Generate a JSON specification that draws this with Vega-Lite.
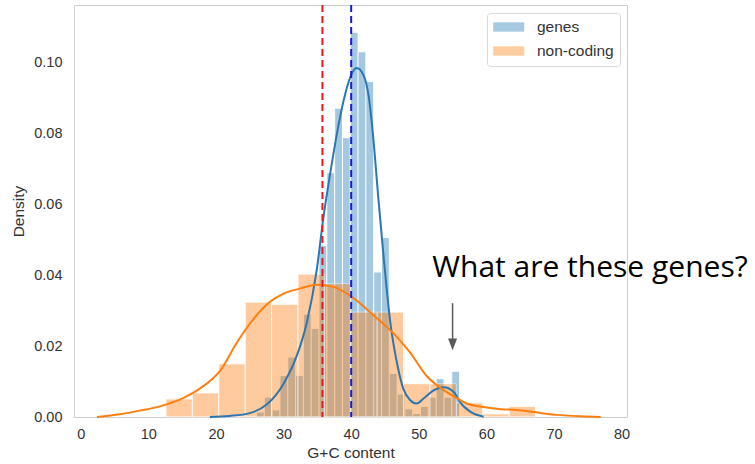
{
  "$schema": "https://vega.github.io/schema/vega-lite/v6.json",
  "width": 553,
  "height": 412,
  "autosize": {"type": "none"},
  "padding": {"left": 74, "top": 5, "right": 128, "bottom": 47},
  "background": "white",
  "config": {
    "font": "Liberation Sans",
    "view": {"stroke": "#cfcfcf", "strokeWidth": 1},
    "axis": {
      "grid": false,
      "domain": false,
      "ticks": false,
      "labelFontSize": 14.5,
      "labelColor": "#333333",
      "titleFontSize": 15.5,
      "titleFontWeight": "normal",
      "titleColor": "#333333"
    }
  },
  "datasets": {
    "hist": [
      {"series": "genes", "bin_start": 25.996, "bin_end": 27.151, "density": 0.0014},
      {"series": "genes", "bin_start": 27.151, "bin_end": 28.307, "density": 0.0056},
      {"series": "genes", "bin_start": 28.307, "bin_end": 29.462, "density": 0.002},
      {"series": "genes", "bin_start": 29.462, "bin_end": 30.618, "density": 0.0117},
      {"series": "genes", "bin_start": 30.618, "bin_end": 31.774, "density": 0.0169},
      {"series": "genes", "bin_start": 31.774, "bin_end": 32.929, "density": 0.0117},
      {"series": "genes", "bin_start": 32.929, "bin_end": 34.085, "density": 0.029},
      {"series": "genes", "bin_start": 34.085, "bin_end": 35.24, "density": 0.025},
      {"series": "genes", "bin_start": 35.24, "bin_end": 36.396, "density": 0.0484},
      {"series": "genes", "bin_start": 36.396, "bin_end": 37.552, "density": 0.0689},
      {"series": "genes", "bin_start": 37.552, "bin_end": 38.707, "density": 0.0871},
      {"series": "genes", "bin_start": 38.707, "bin_end": 39.863, "density": 0.0788},
      {"series": "genes", "bin_start": 39.863, "bin_end": 41.018, "density": 0.1085},
      {"series": "genes", "bin_start": 41.018, "bin_end": 42.174, "density": 0.103},
      {"series": "genes", "bin_start": 42.174, "bin_end": 43.33, "density": 0.0946},
      {"series": "genes", "bin_start": 43.33, "bin_end": 44.485, "density": 0.0409},
      {"series": "genes", "bin_start": 44.485, "bin_end": 45.641, "density": 0.0506},
      {"series": "genes", "bin_start": 45.641, "bin_end": 46.796, "density": 0.0123},
      {"series": "genes", "bin_start": 46.796, "bin_end": 47.952, "density": 0.0065},
      {"series": "genes", "bin_start": 47.952, "bin_end": 49.108, "density": 0.0023},
      {"series": "genes", "bin_start": 49.108, "bin_end": 50.263, "density": 0.001},
      {"series": "genes", "bin_start": 50.263, "bin_end": 51.419, "density": 0.003},
      {"series": "genes", "bin_start": 51.419, "bin_end": 52.574, "density": 0.0056},
      {"series": "genes", "bin_start": 52.574, "bin_end": 53.73, "density": 0.0108},
      {"series": "genes", "bin_start": 53.73, "bin_end": 54.886, "density": 0.0056},
      {"series": "genes", "bin_start": 54.886, "bin_end": 56.041, "density": 0.0129},
      {"series": "non-coding", "bin_start": 12.6, "bin_end": 16.505, "density": 0.0051},
      {"series": "non-coding", "bin_start": 16.505, "bin_end": 20.41, "density": 0.0068},
      {"series": "non-coding", "bin_start": 20.41, "bin_end": 24.315, "density": 0.015},
      {"series": "non-coding", "bin_start": 24.315, "bin_end": 28.22, "density": 0.0324},
      {"series": "non-coding", "bin_start": 28.22, "bin_end": 32.125, "density": 0.0318},
      {"series": "non-coding", "bin_start": 32.125, "bin_end": 36.03, "density": 0.0403},
      {"series": "non-coding", "bin_start": 36.03, "bin_end": 39.935, "density": 0.0376},
      {"series": "non-coding", "bin_start": 39.935, "bin_end": 43.84, "density": 0.0296},
      {"series": "non-coding", "bin_start": 43.84, "bin_end": 47.745, "density": 0.0296},
      {"series": "non-coding", "bin_start": 47.745, "bin_end": 51.65, "density": 0.0094},
      {"series": "non-coding", "bin_start": 51.65, "bin_end": 55.555, "density": 0.0094},
      {"series": "non-coding", "bin_start": 55.555, "bin_end": 59.46, "density": 0.004},
      {"series": "non-coding", "bin_start": 59.46, "bin_end": 63.365, "density": 0.0009},
      {"series": "non-coding", "bin_start": 63.365, "bin_end": 67.27, "density": 0.003}
    ],
    "kde": [
      {"series": "genes", "gc": 19.1, "density": 0},
      {"series": "genes", "gc": 22.0, "density": 0.0003},
      {"series": "genes", "gc": 25.0, "density": 0.0011},
      {"series": "genes", "gc": 27.5, "density": 0.0035},
      {"series": "genes", "gc": 30.0, "density": 0.0094},
      {"series": "genes", "gc": 32.0, "density": 0.0175},
      {"series": "genes", "gc": 33.4, "density": 0.0263},
      {"series": "genes", "gc": 34.9, "density": 0.0414},
      {"series": "genes", "gc": 35.9, "density": 0.0564},
      {"series": "genes", "gc": 36.9, "density": 0.0687},
      {"series": "genes", "gc": 37.9, "density": 0.08},
      {"series": "genes", "gc": 38.9, "density": 0.0894},
      {"series": "genes", "gc": 39.9, "density": 0.096},
      {"series": "genes", "gc": 40.8, "density": 0.0984},
      {"series": "genes", "gc": 41.8, "density": 0.0965},
      {"series": "genes", "gc": 42.6, "density": 0.0903},
      {"series": "genes", "gc": 43.3, "density": 0.0781},
      {"series": "genes", "gc": 44.0, "density": 0.0621},
      {"series": "genes", "gc": 44.8, "density": 0.0451},
      {"series": "genes", "gc": 45.8, "density": 0.0265},
      {"series": "genes", "gc": 46.8, "density": 0.015},
      {"series": "genes", "gc": 47.7, "density": 0.008},
      {"series": "genes", "gc": 48.7, "density": 0.0048},
      {"series": "genes", "gc": 49.7, "density": 0.0038},
      {"series": "genes", "gc": 50.7, "density": 0.0052},
      {"series": "genes", "gc": 52.2, "density": 0.0075},
      {"series": "genes", "gc": 53.7, "density": 0.0084},
      {"series": "genes", "gc": 55.2, "density": 0.007},
      {"series": "genes", "gc": 56.1, "density": 0.0042},
      {"series": "genes", "gc": 57.6, "density": 0.0015},
      {"series": "genes", "gc": 59.6, "density": 0.0001},
      {"series": "non-coding", "gc": 2.4, "density": 0},
      {"series": "non-coding", "gc": 5.8, "density": 0.0008},
      {"series": "non-coding", "gc": 8.7, "density": 0.0018},
      {"series": "non-coding", "gc": 11.7, "density": 0.003},
      {"series": "non-coding", "gc": 15.2, "density": 0.0054},
      {"series": "non-coding", "gc": 17.6, "density": 0.008},
      {"series": "non-coding", "gc": 20.6, "density": 0.013},
      {"series": "non-coding", "gc": 23.1, "density": 0.021},
      {"series": "non-coding", "gc": 25.0, "density": 0.0263},
      {"series": "non-coding", "gc": 28.0, "density": 0.0325},
      {"series": "non-coding", "gc": 30.0, "density": 0.0348},
      {"series": "non-coding", "gc": 32.4, "density": 0.0362},
      {"series": "non-coding", "gc": 34.9, "density": 0.0373},
      {"series": "non-coding", "gc": 37.4, "density": 0.0367},
      {"series": "non-coding", "gc": 40.3, "density": 0.0336},
      {"series": "non-coding", "gc": 43.3, "density": 0.0287},
      {"series": "non-coding", "gc": 46.3, "density": 0.0235},
      {"series": "non-coding", "gc": 48.7, "density": 0.0182},
      {"series": "non-coding", "gc": 51.2, "density": 0.0115},
      {"series": "non-coding", "gc": 53.2, "density": 0.0082},
      {"series": "non-coding", "gc": 55.2, "density": 0.0058},
      {"series": "non-coding", "gc": 57.1, "density": 0.0038},
      {"series": "non-coding", "gc": 59.6, "density": 0.0028},
      {"series": "non-coding", "gc": 62.1, "density": 0.0022},
      {"series": "non-coding", "gc": 64.5, "density": 0.002},
      {"series": "non-coding", "gc": 67.0, "density": 0.0014},
      {"series": "non-coding", "gc": 70.5, "density": 0.0006},
      {"series": "non-coding", "gc": 73.9, "density": 0.0002},
      {"series": "non-coding", "gc": 76.9, "density": 0}
    ],
    "means": [
      {"series": "non-coding", "mean": 35.75},
      {"series": "genes", "mean": 40.0}
    ],
    "notes": [
      {"note": "What are these genes?"}
    ]
  },
  "layer": [
    {
      "data": {"name": "hist"},
      "mark": {"type": "rect", "opacity": 0.4, "stroke": "white", "strokeWidth": 1},
      "encoding": {
        "x": {
          "field": "bin_start",
          "type": "quantitative",
          "scale": {"domain": [-1.0, 80.8], "nice": false, "zero": false},
          "axis": {"title": "G+C content", "values": [0, 10, 20, 30, 40, 50, 60, 70, 80], "labelPadding": 10, "titlePadding": 5}
        },
        "x2": {"field": "bin_end"},
        "y": {
          "field": "density",
          "type": "quantitative",
          "scale": {"domain": [0, 0.1162], "nice": false},
          "axis": {"title": "Density", "values": [0, 0.02, 0.04, 0.06, 0.08, 0.1], "format": ".2f", "labelPadding": 12, "titlePadding": 7}
        },
        "y2": {"datum": 0},
        "fill": {
          "field": "series",
          "type": "nominal",
          "scale": {"domain": ["genes", "non-coding"], "range": ["#1f77b4", "#ff7f0e"]},
          "legend": {
            "title": null,
            "orient": "none",
            "legendX": 413,
            "legendY": 8,
            "fillColor": "white",
            "strokeColor": "#d9d9d9",
            "cornerRadius": 3,
            "padding": 6,
            "symbolType": "M-1,-0.6H3V0.6H-1Z",
            "symbolSize": 240,
            "symbolOpacity": 0.4,
            "symbolStrokeWidth": 0,
            "labelFontSize": 15.5,
            "labelColor": "#333333",
            "labelOffset": 28,
            "rowPadding": 7
          }
        }
      }
    },
    {
      "data": {"name": "kde"},
      "mark": {"type": "line", "strokeWidth": 2, "interpolate": "monotone"},
      "encoding": {
        "x": {"field": "gc", "type": "quantitative"},
        "y": {"field": "density", "type": "quantitative"},
        "stroke": {
          "field": "series",
          "type": "nominal",
          "scale": {"domain": ["genes", "non-coding"], "range": ["#2a77b2", "#ff7f0e"]},
          "legend": null
        }
      }
    },
    {
      "data": {"name": "means"},
      "mark": {"type": "rule", "strokeWidth": 2, "strokeDash": [7, 4]},
      "encoding": {
        "x": {"field": "mean", "type": "quantitative"},
        "color": {
          "field": "series",
          "type": "nominal",
          "scale": {"domain": ["genes", "non-coding"], "range": ["#1a1ad6", "#e8191c"]},
          "legend": null
        }
      }
    },
    {
      "data": {"name": "notes"},
      "mark": {"type": "text", "align": "left", "baseline": "alphabetic", "font": "Open Sans", "fontSize": 30, "color": "#000000"},
      "encoding": {
        "x": {"datum": 52.0},
        "y": {"datum": 0.0395},
        "text": {"field": "note"}
      }
    },
    {
      "data": {"name": "notes"},
      "mark": {"type": "rule", "color": "#595959", "strokeWidth": 1.5},
      "encoding": {
        "x": {"datum": 55.0},
        "y": {"datum": 0.0321},
        "y2": {"datum": 0.021}
      }
    },
    {
      "data": {"name": "notes"},
      "mark": {"type": "point", "shape": "M-1,-1.3L1,-1.3L0,1.3Z", "size": 81, "filled": true, "color": "#595959", "opacity": 1},
      "encoding": {
        "x": {"datum": 55.0},
        "y": {"datum": 0.0205}
      }
    }
  ]
}
